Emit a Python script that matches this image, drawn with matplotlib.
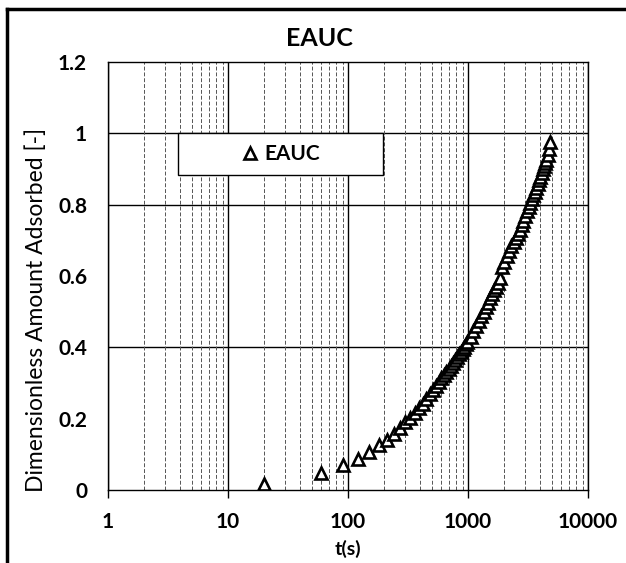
import matplotlib
matplotlib.use("Agg")
import matplotlib.pyplot as plt
from matplotlib.ticker import FixedLocator, NullFormatter
from matplotlib.patches import Rectangle
from matplotlib.lines import Line2D

plt.rcParams['font.family'] = ['Lato', 'DejaVu Sans']

title = "EAUC"
series_name = "EAUC"
x_label = "t(s)"
y_label = "Dimensionless Amount Adsorbed [-]"

t_s = [20, 60, 90, 120, 150, 180, 210, 240, 270, 300,
       330, 360, 390, 420, 450, 480, 510, 540, 570, 600,
       630, 660, 690, 720, 750, 780, 810, 840, 870, 900,
       930, 960, 990, 1050, 1110, 1170, 1230, 1290, 1350, 1410,
       1470, 1530, 1590, 1650, 1710, 1770, 1860, 1920, 2000, 2100,
       2200, 2300, 2400, 2500, 2600, 2700, 2800, 2900, 3000, 3100,
       3200, 3300, 3400, 3500, 3600, 3700, 3800, 3900, 4000, 4100,
       4200, 4300, 4400, 4500, 4600, 4700, 4800]
amount = [0.018, 0.048, 0.069, 0.088, 0.106, 0.126, 0.141, 0.158, 0.175, 0.190,
          0.203, 0.216, 0.229, 0.242, 0.256, 0.268, 0.280, 0.292, 0.303, 0.315,
          0.323, 0.331, 0.340, 0.348, 0.356, 0.365, 0.373, 0.381, 0.388, 0.395,
          0.402, 0.409, 0.416, 0.430, 0.445, 0.460, 0.474, 0.487, 0.500, 0.513,
          0.525, 0.537, 0.549, 0.560, 0.570, 0.580, 0.594, 0.626, 0.640, 0.655,
          0.670, 0.683, 0.695, 0.706, 0.717, 0.729, 0.742, 0.755, 0.768, 0.781,
          0.793, 0.806, 0.816, 0.826, 0.836, 0.847, 0.857, 0.868, 0.878, 0.889,
          0.899, 0.908, 0.916, 0.925, 0.938, 0.955, 0.975]

x_ticks = [1, 10, 100, 1000, 10000]
x_ticklabels = ["1", "10", "100", "1000", "10000"]
y_ticks = [0, 0.2, 0.4, 0.6, 0.8, 1, 1.2]
y_ticklabels = ["0", "0.2", "0.4", "0.6", "0.8", "1", "1.2"]
y_gridlines = [0.4, 0.8, 1.0]

W, H = 626, 563
fig = plt.figure(figsize=(W / 100, H / 100), dpi=100)
ax = fig.add_axes([108 / W, 73 / H, 480 / W, 428 / H])

ax.set_xscale('log')
ax.set_xlim(1, 10000)
ax.set_ylim(0, 1.2)

# minor vertical gridlines (dashed, grey)
minor = [m * d for d in [1, 10, 100, 1000] for m in range(2, 10)]
ax.xaxis.set_minor_locator(FixedLocator(minor))
ax.xaxis.set_minor_formatter(NullFormatter())
ax.xaxis.grid(True, which='minor', color='#555555', linestyle=(0, (4, 2)), linewidth=0.7)
ax.xaxis.grid(True, which='major', color='black', linestyle='-', linewidth=1.0)
ax.yaxis.grid(False)
for yv in y_gridlines:
    ax.axhline(yv, color='black', linewidth=1.0, zorder=1)

ax.set_xticks(x_ticks)
ax.set_xticklabels(x_ticklabels, fontsize=15, fontweight='bold')
ax.set_yticks(y_ticks)
ax.set_yticklabels(y_ticklabels, fontsize=15, fontweight='bold')
ax.tick_params(axis='x', which='major', direction='out', length=6, width=1, pad=10)
ax.tick_params(axis='x', which='minor', length=0)
ax.tick_params(axis='y', length=0, pad=15)

for s in ax.spines.values():
    s.set_color('black')
    s.set_linewidth(1.0)

ax.plot(t_s, amount, linestyle='none', marker='^', markersize=8,
        markerfacecolor='white', markeredgecolor='black', markeredgewidth=1.9,
        label=series_name, zorder=3)

fig.text(319 / W, 1 - 39 / H, title, fontsize=18, fontweight='bold',
         ha='center', va='center')
fig.text(348 / W, 1 - 549 / H, x_label, fontsize=14, fontweight='bold',
         ha='center', va='center')
fig.text(36 / W, 1 - 310 / H, y_label, fontsize=16.5, rotation=90,
         ha='center', va='center')

# legend box
box = Rectangle((0.146, 0.736), 0.427, 0.098, transform=ax.transAxes,
                facecolor='white', edgecolor='black', linewidth=1.0, zorder=4)
ax.add_patch(box)
leg = ax.legend(loc='center', bbox_to_anchor=(0.146, 0.736, 0.427, 0.098),
                frameon=False, handletextpad=0.3, handlelength=0.8,
                prop={'size': 15, 'weight': 'bold'})
leg.set_zorder(5)

# figure border (scanned frame)
fig.add_artist(Line2D([7 / W, 7 / W], [0, 1 - 9 / H], transform=fig.transFigure,
                      color='black', linewidth=2.5))
fig.add_artist(Line2D([7 / W, 1], [1 - 9 / H, 1 - 9 / H], transform=fig.transFigure,
                      color='black', linewidth=2.5))

fig.savefig("out.png", dpi=100)
